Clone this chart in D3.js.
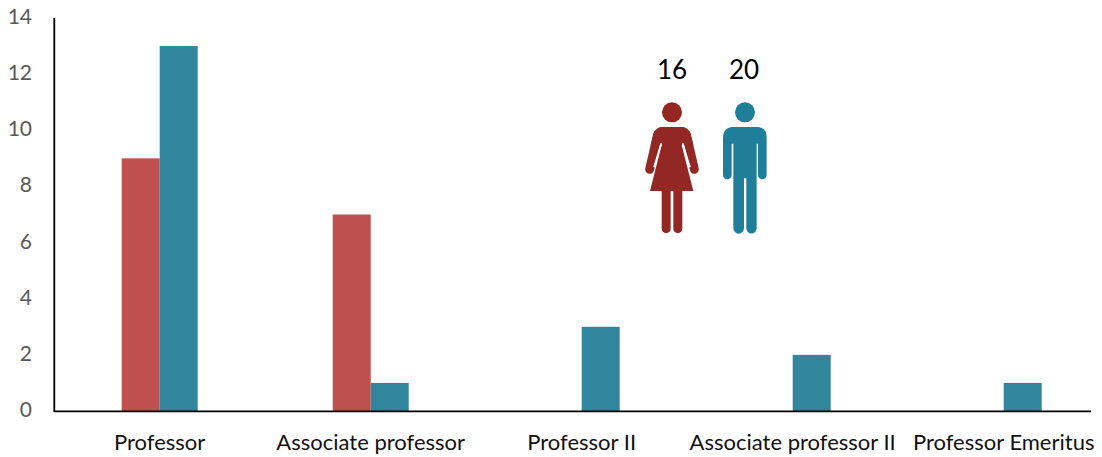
<!DOCTYPE html>
<html><head><meta charset="utf-8"><style>
html,body{margin:0;padding:0;background:#fff;overflow:hidden}
svg{display:block}
text{font-family:Lato,"Open Sans",sans-serif}
</style>
<script src="https://cdn.jsdelivr.net/npm/d3@7"></script></head><body>
<svg id="c" width="1102" height="457"></svg>
<script>
const categories=["Professor","Associate professor","Professor II","Associate professor II","Professor Emeritus"];
const women=[9,7,0,0,0];
const men=[13,1,3,2,1];
const yTicks=[0,2,4,6,8,10,12,14];
const totals=["16","20"];
const svg=d3.select("#c");
const x=d3.scaleBand().domain(categories).range([54.2,1109.2]);
const y=d3.scaleLinear().domain([0,14]).range([411,18]);
const barW=38;
const RED="#C0504D",TEAL="#31859C";
const cx=c=>x(c)+x.bandwidth()/2;
svg.selectAll(".w").data(categories).join("rect").attr("class","w")
 .attr("x",c=>cx(c)-barW).attr("width",barW)
 .attr("y",(c,i)=>y(women[i])).attr("height",(c,i)=>y(0)-y(women[i])).attr("fill",RED);
svg.selectAll(".m").data(categories).join("rect").attr("class","m")
 .attr("x",c=>cx(c)).attr("width",barW)
 .attr("y",(c,i)=>y(men[i])).attr("height",(c,i)=>y(0)-y(men[i])).attr("fill",TEAL);
// axes
svg.append("line").attr("x1",54.3).attr("x2",54.3).attr("y1",18).attr("y2",412).attr("stroke","#000").attr("stroke-width",1.8);
svg.append("line").attr("x1",54).attr("x2",1091).attr("y1",411.3).attr("y2",411.3).attr("stroke","#000").attr("stroke-width",1.8);
svg.selectAll(".yt").data(yTicks).join("text").attr("class","yt")
 .attr("x",32).attr("y",d=>y(d)+6).attr("text-anchor","end")
 .attr("font-size",21).attr("fill","#595959").text(d=>d);
svg.selectAll(".xt").data(categories).join("text").attr("class","xt")
 .attr("x",cx).attr("y",450).attr("text-anchor","middle")
 .attr("font-size",22).attr("fill","#111").text(d=>d);
svg.selectAll(".tot").data(totals).join("text").attr("class","tot")
 .attr("x",(d,i)=>[672,744][i]).attr("y",79).attr("text-anchor","middle")
 .attr("font-size",26).attr("fill","#000").text(d=>d);
// pictograms (coordinates in the 3x zoom space of the figure region)
const icons=svg.append("g").attr("transform","translate(630,50) scale(0.3333)");
const F="#922723",M="#1F7F9B";
const f=icons.append("g").attr("fill",F);
f.append("circle").attr("cx",126).attr("cy",187).attr("r",30);
f.append("path").attr("d","M92 231H160Q174 233 181 250L190 285H155L190 423H60L95 285H62L71 250Q78 233 92 231Z");
[[83,254,59,358],[169,254,193,358]].forEach(a=>f.append("line").attr("x1",a[0]).attr("y1",a[1]).attr("x2",a[2]).attr("y2",a[3]).attr("stroke",F).attr("stroke-width",27).attr("stroke-linecap","round"));
[[108.5,420,108.5,536],[143.5,420,143.5,536]].forEach(a=>f.append("line").attr("x1",a[0]).attr("y1",a[1]).attr("x2",a[2]).attr("y2",a[3]).attr("stroke",F).attr("stroke-width",27).attr("stroke-linecap","round"));
[[94,280,72,352],[158,280,180,352]].forEach(a=>f.append("line").attr("x1",a[0]).attr("y1",a[1]).attr("x2",a[2]).attr("y2",a[3]).attr("stroke","#fff").attr("stroke-width",5));
const m=icons.append("g").attr("fill",M);
m.append("circle").attr("cx",345).attr("cy",187).attr("r",30);
m.append("path").attr("d","M304 231H386Q410 235 410 262V375A13 13 0 0 1 384 375V281H380V535A15.5 15.5 0 0 1 349 535V385H342V535A15.5 15.5 0 0 1 310 535V281H305V375A13 13 0 0 1 279 375V262Q279 235 304 231Z");
</script></body></html>
